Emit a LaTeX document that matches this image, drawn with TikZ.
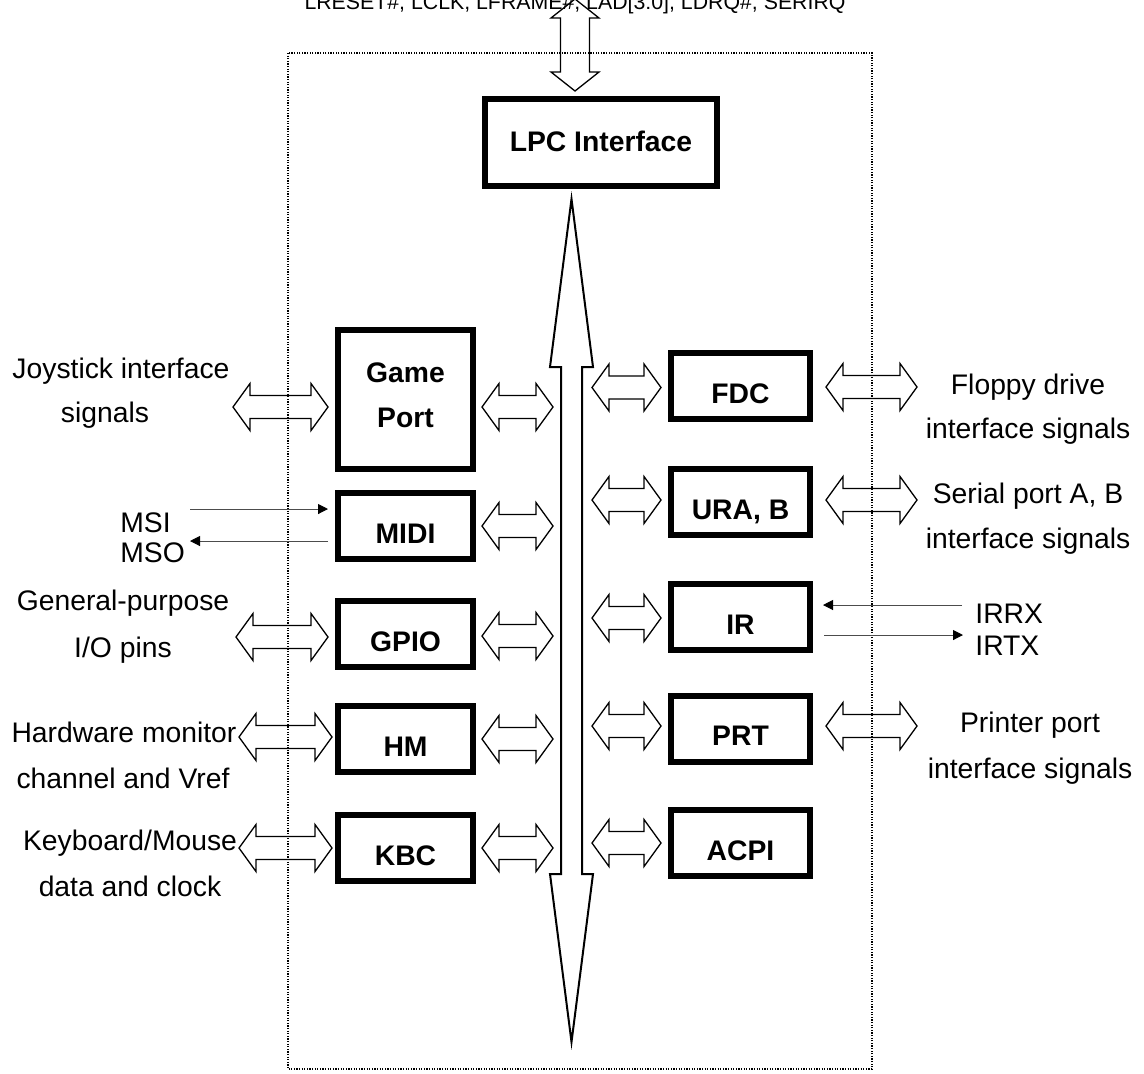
\documentclass[tikz,border=0pt]{standalone}
\usepackage{fontspec}
\setmainfont{Liberation Sans}
\usetikzlibrary{calc,arrows.meta}
% hollow double-headed block arrow between two named coordinates
% #1 style, #2 start, #3 end, #4 head length, #5 half head width, #6 half shaft width
\newcommand\fatdbl[6][fatline]{%
  \draw[#1] (#2)
   -- ($(#2)!#4!(#3)!#5!90:(#3)$)
   -- ($(#2)!#4!(#3)!#6!90:(#3)$)
   -- ($(#3)!#4!(#2)!#6!-90:(#2)$)
   -- ($(#3)!#4!(#2)!#5!-90:(#2)$)
   -- (#3)
   -- ($(#3)!#4!(#2)!#5!90:(#2)$)
   -- ($(#3)!#4!(#2)!#6!90:(#2)$)
   -- ($(#2)!#4!(#3)!#6!-90:(#3)$)
   -- ($(#2)!#4!(#3)!#5!-90:(#3)$)
   -- cycle;}
\newcommand\smallarr[2]{\fatdbl{#1}{#2}{8.5pt}{11.75pt}{5.75pt}}
\begin{document}
\begin{tikzpicture}[x=0.5pt,y=-0.5pt,
  every node/.style={inner sep=0pt, font=\fontsize{14.15pt}{17pt}\selectfont},
  blk/.style={draw, line width=3pt, minimum width=67.5pt, minimum height=33pt,
    font=\fontsize{14.15pt}{17pt}\selectfont\bfseries, text height=17pt, text depth=0pt},
  rblk/.style={blk, minimum width=69.5pt},
  lbl/.style={anchor=base},
  boldlbl/.style={anchor=base, font=\fontsize{14.15pt}{17pt}\selectfont\bfseries},
  fatline/.style={line width=0.65pt, line join=miter},
  busline/.style={line width=1pt, line join=miter},
  sig/.style={draw=black!70, line width=0.5pt, -{Triangle[length=5pt,width=5pt,color=black]}},
  border/.style={line width=0.6pt, dash pattern=on 0.6pt off 0.7pt}]
\useasboundingbox (0,0) rectangle (1144,1073);
\draw[border] (288,53) rectangle (872,1069);

% top LPC signals
\node[anchor=base, font=\fontsize{10.65pt}{12pt}\selectfont] (lpcsig) at (575,9)
  {LRESET\#, LCLK, LFRAME\#, LAD[3:0], LDRQ\#, SERIRQ};
\node[blk, minimum width=116pt, minimum height=43.5pt, text height=8.5pt] (lpc) at (601,142.5) {LPC Interface};
\coordinate (topA) at (575,-1);
\coordinate (topB) at (575,91);
\fatdbl{topA}{topB}{9.5pt}{12pt}{7.25pt}

% internal bus
\coordinate (busT) at (571.5,199);
\coordinate (busB) at (571.5,1042);
\fatdbl[busline]{busT}{busB}{84pt}{10.75pt}{5.25pt}

% left blocks
\node[blk, minimum height=69.5pt] (gp) at (405.5,399.5) {};
\node[boldlbl] (gpT1) at (405.5,382) {Game};
\node[boldlbl] (gpT2) at (405.5,427) {Port};
\node[blk] (midi) at (405.5,526) {MIDI};
\node[blk] (gpio) at (405.5,634) {GPIO};
\node[blk] (hm) at (405.5,739) {HM};
\node[blk] (kbc) at (405.5,848) {KBC};

% right blocks
\node[rblk] (fdc) at (740.5,386) {FDC};
\node[rblk] (ura) at (740.5,502) {URA, B};
\node[rblk] (ir) at (740.5,617) {IR};
\node[rblk] (prt) at (740.5,728.5) {PRT};
\node[rblk] (acpi) at (740.5,843) {ACPI};

% left inner arrows
\coordinate (gpI1) at (482,407);  \coordinate (gpI2) at (553,407);  \smallarr{gpI1}{gpI2}
\coordinate (miI1) at (482,526);  \coordinate (miI2) at (553,526);  \smallarr{miI1}{miI2}
\coordinate (gioI1) at (482,636); \coordinate (gioI2) at (553,636); \smallarr{gioI1}{gioI2}
\coordinate (hmI1) at (482,739);  \coordinate (hmI2) at (553,739);  \smallarr{hmI1}{hmI2}
\coordinate (kbI1) at (482,848);  \coordinate (kbI2) at (553,848);  \smallarr{kbI1}{kbI2}

% right inner arrows
\coordinate (fdI1) at (592,387.5); \coordinate (fdI2) at (661,387.5); \smallarr{fdI1}{fdI2}
\coordinate (urI1) at (592,500);   \coordinate (urI2) at (661,500);   \smallarr{urI1}{urI2}
\coordinate (irI1) at (592,618);   \coordinate (irI2) at (661,618);   \smallarr{irI1}{irI2}
\coordinate (prI1) at (592,726);   \coordinate (prI2) at (661,726);   \smallarr{prI1}{prI2}
\coordinate (acI1) at (592,843);   \coordinate (acI2) at (661,843);   \smallarr{acI1}{acI2}

% left outer arrows
\coordinate (joyO1) at (233,407); \coordinate (joyO2) at (328,407); \smallarr{joyO1}{joyO2}
\coordinate (gioO1) at (236,637); \coordinate (gioO2) at (328,637); \smallarr{gioO1}{gioO2}
\coordinate (hmO1) at (239,737);  \coordinate (hmO2) at (332,737);  \smallarr{hmO1}{hmO2}
\coordinate (kbO1) at (239,848);  \coordinate (kbO2) at (332,848);  \smallarr{kbO1}{kbO2}

% right outer arrows
\coordinate (fdO1) at (826,387); \coordinate (fdO2) at (917,387); \smallarr{fdO1}{fdO2}
\coordinate (urO1) at (826,500); \coordinate (urO2) at (917,500); \smallarr{urO1}{urO2}
\coordinate (prO1) at (826,726); \coordinate (prO2) at (917,726); \smallarr{prO1}{prO2}

% thin signal lines
\coordinate (msiS) at (190,509); \coordinate (msiE) at (328,509);
\draw[sig] (msiS) -- (msiE);
\coordinate (msoS) at (328,541); \coordinate (msoE) at (190,541);
\draw[sig] (msoS) -- (msoE);
\coordinate (irrxS) at (962,605); \coordinate (irrxE) at (823,605);
\draw[sig] (irrxS) -- (irrxE);
\coordinate (irtxS) at (824,635); \coordinate (irtxE) at (963,635);
\draw[sig] (irtxS) -- (irtxE);

% left texts
\node[lbl] (joy1) at (121,378) {Joystick interface};
\node[lbl] (joy2) at (105,422) {signals};
\node[lbl, anchor=base west] (msi) at (120,532) {MSI};
\node[lbl, anchor=base west] (mso) at (120,562) {MSO};
\node[lbl] (gio1) at (123,610) {General-purpose};
\node[lbl] (gio2) at (123,657) {I/O pins};
\node[lbl] (hm1) at (124,742) {Hardware monitor};
\node[lbl] (hm2) at (123,788) {channel and Vref};
\node[lbl] (kb1) at (130,850) {Keyboard/Mouse};
\node[lbl] (kb2) at (130,896) {data and clock};

% right texts
\node[lbl] (fd1) at (1028,394) {Floppy drive};
\node[lbl] (fd2) at (1028,438) {interface signals};
\node[lbl] (ur1) at (1028,503) {Serial port A, B};
\node[lbl] (ur2) at (1028,548) {interface signals};
\node[lbl, anchor=base west] (irrx) at (975,623) {IRRX};
\node[lbl, anchor=base west] (irtx) at (975,655) {IRTX};
\node[lbl] (pr1) at (1030,732) {Printer port};
\node[lbl] (pr2) at (1030,778) {interface signals};
\end{tikzpicture}
\end{document}
